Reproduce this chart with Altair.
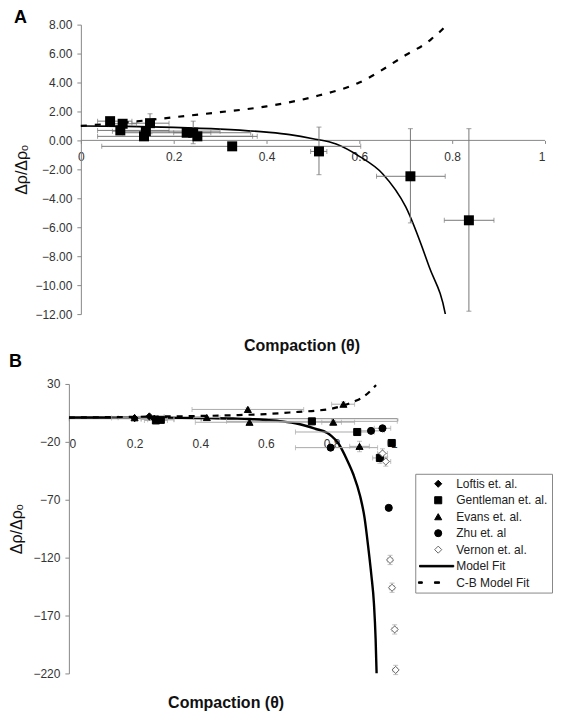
import altair as alt
import pandas as pd

# ---------------- Panel A data ----------------
a_x   = [0.063, 0.090, 0.085, 0.136, 0.140, 0.149, 0.228, 0.242, 0.251, 0.326, 0.513, 0.710, 0.836]
a_y   = [1.33, 1.15, 0.69, 0.28, 0.64, 1.19, 0.53, 0.53, 0.28, -0.41, -0.76, -2.48, -5.52]
a_xlo = [0.036, 0.060, 0.036, 0.036, 0.068, 0.110, 0.090, 0.200, 0.130, 0.045, 0.495, 0.637, 0.783]
a_xhi = [0.110, 0.120, 0.190, 0.370, 0.300, 0.190, 0.366, 0.280, 0.380, 0.603, 0.530, 0.785, 0.890]
a_ylo = [1.15, 1.00, 0.55, 0.15, 0.50, 0.46, 0.40, -0.23, 0.15, -0.55, -2.37, -5.70, -11.80]
a_yhi = [1.50, 1.30, 0.85, 0.40, 0.80, 1.84, 0.65, 1.33, 0.40, -0.27, 0.92, 0.81, 0.81]

# ---------------- Model curves ----------------
model_x = [0, 0.1, 0.2, 0.3, 0.4, 0.45, 0.5, 0.55, 0.6, 0.65, 0.7, 0.75, 0.787,
           0.8, 0.82, 0.846, 0.866, 0.887, 0.9, 0.912, 0.921, 0.929, 0.934, 0.937]
model_y = [1.0, 0.97, 0.9, 0.78, 0.57, 0.4, 0.12, -0.25, -1.1, -2.3, -4.6, -8.7, -12.3,
           -15, -21, -35, -48, -67, -85, -112, -135, -160, -190, -220]
cb_x = [0, 0.1, 0.2, 0.3, 0.4, 0.5, 0.6, 0.7, 0.755, 0.8, 0.836, 0.87, 0.9, 0.935]
cb_y = [1.0, 1.25, 1.6, 1.95, 2.35, 3.0, 4.0, 5.9, 7.0, 8.6, 11.5, 15, 19.5, 29]

# ---------------- Panel B data ----------------
series_names = ["Loftis et. al.", "Gentleman et. al.", "Evans et. al.", "Zhu et. al",
                "Vernon et. al.", "Model Fit", "C-B Model Fit"]
b_series = (["Loftis et. al."] * 3 + ["Gentleman et. al."] * 6 + ["Evans et. al."] * 8
            + ["Zhu et. al"] * 4 + ["Vernon et. al."] * 6)
b_x   = [0.20, 0.245, 0.26,
         0.265, 0.28, 0.74, 0.878, 0.947, 0.983,
         0.20, 0.27, 0.42, 0.545, 0.55, 0.805, 0.836, 0.885,
         0.797, 0.92, 0.955, 0.974,
         0.955, 0.965, 0.978, 0.984, 0.992, 0.995]
b_y   = [0.5, 2.0, 0.0,
         -1.5, -1.0, -2.3, -11.5, -33.9, -21,
         0.8, -0.5, 1.0, 8.0, -3.1, -3.0, 12.5, -23.9,
         -25, -10.5, -8.3, -77,
         -30, -37, -122, -146, -182, -217]
b_xlo = [0.13, 0.20, 0.22,
         0.23, 0.24, 0.48, 0.69, 0.925, 0.97,
         0.15, 0.22, 0.38, 0.375, 0.385, 0.77, 0.80, 0.855,
         0.69, 0.87, 0.93, 0.965,
         0.94, 0.95, 0.97, 0.976, 0.984, 0.987]
b_xhi = [0.27, 0.29, 0.30,
         0.30, 0.32, 1.0, 0.93, 0.97, 0.995,
         0.25, 0.32, 0.46, 0.715, 0.83, 0.87, 0.87, 0.915,
         0.94, 0.96, 0.98, 0.983,
         0.97, 0.98, 0.986, 0.992, 1.0, 1.0]
b_ylo = [-0.5, 1.0, -1.0,
         -2.5, -2.0, -3.3, -13.5, -38.5, -23,
         -0.2, -1.5, 0.0, 6.5, -4.5, -4.5, 10.5, -28.5,
         -27, -12.5, -10.3, -79,
         -34, -41, -126, -150, -186, -221]
b_yhi = [1.5, 3.0, 1.0,
         -0.5, 0.0, -1.3, -9.5, -29.5, -19,
         1.8, 0.5, 2.0, 9.5, -1.7, -1.5, 14.5, -19.5,
         -23, -8.5, -6.3, -75,
         -26, -33, -118, -142, -178, -213]

FONT = "Liberation Sans"

dfA = pd.DataFrame({"x": a_x, "y": a_y, "xlo": a_xlo, "xhi": a_xhi, "ylo": a_ylo, "yhi": a_yhi})
dfB = pd.DataFrame({"series": b_series, "x": b_x, "y": b_y, "xlo": b_xlo, "xhi": b_xhi,
                    "ylo": b_ylo, "yhi": b_yhi})
dfM = pd.DataFrame({"x": model_x, "y": model_y})
dfC = pd.DataFrame({"x": cb_x, "y": cb_y})


def caps(df):
    xc = pd.concat([df[["xlo", "y"]].rename(columns={"xlo": "cx"}),
                    df[["xhi", "y"]].rename(columns={"xhi": "cx"})])
    yc = pd.concat([df[["x", "ylo"]].rename(columns={"ylo": "cy"}),
                    df[["x", "yhi"]].rename(columns={"yhi": "cy"})])
    return xc, yc


def panel(df, xdom, ydom, yvals, yfmt, xoff, yoff, titleX, titleY, labpadx, labpady, tpad,
          errcol, lw, dash, width, height, mk_points):
    xaxis = alt.Axis(values=[0, 0.2, 0.4, 0.6, 0.8, 1], format="~g", orient="bottom",
                     offset=xoff, tickSize=3, labelPadding=labpadx, domain=False,
                     tickColor="#888", labelColor="#333", labelFontSize=12, labelFont=FONT,
                     grid=False, title="Compaction (θ)", titleFont=FONT, titleFontSize=16,
                     titleFontWeight="bold", titleX=titleX, titleY=titleY,
                     titleBaseline="alphabetic", titleAlign="center", titleColor="#111")
    yaxis = alt.Axis(values=yvals, format=yfmt, tickSize=4, labelPadding=labpady, offset=yoff,
                     domainColor="#888", tickColor="#888", labelColor="#333",
                     labelFontSize=12, labelFont=FONT, grid=False,
                     title="Δρ/Δρₒ", titleFont=FONT, titleFontSize=16,
                     titleFontWeight="normal", titlePadding=tpad, titleColor="#111")
    xs = alt.Scale(domain=xdom, nice=False, zero=False)
    ys = alt.Scale(domain=ydom, nice=False, zero=False)

    def X(f):
        return alt.X(f, type="quantitative", scale=xs, axis=xaxis)

    def Y(f):
        return alt.Y(f, type="quantitative", scale=ys, axis=yaxis)

    xc, yc = caps(df)
    # x axis line at y = 0 from theta = 0 to 1
    zero_line = alt.Chart(pd.DataFrame({"x": [0], "x2": [1], "y": [0]})).mark_rule(
        color="#888", strokeWidth=1).encode(x=X("x"), x2="x2:Q", y=Y("y"))
    model = alt.Chart(dfM).mark_line(color="black", strokeWidth=lw, clip=True,
                                     interpolate="monotone").encode(x=X("x"), y=Y("y"))
    xerr = alt.Chart(df).mark_rule(color=errcol, strokeWidth=1).encode(
        x=X("xlo"), x2="xhi:Q", y=Y("y"))
    xcap = alt.Chart(xc).mark_tick(orient="vertical", size=5, thickness=1, color=errcol).encode(
        x=X("cx"), y=Y("y"))
    yerr = alt.Chart(df).mark_rule(color=errcol, strokeWidth=1).encode(
        x=X("x"), y=Y("ylo"), y2="yhi:Q")
    ycap = alt.Chart(yc).mark_tick(orient="horizontal", size=5, thickness=1, color=errcol).encode(
        x=X("x"), y=Y("cy"))
    cb = alt.Chart(dfC).mark_line(color="black", strokeWidth=2.2, strokeDash=dash, clip=True,
                                  interpolate="monotone").encode(x=X("x"), y=Y("y"))
    pts = mk_points(X("x"), Y("y"))
    return alt.layer(zero_line, model, xerr, xcap, yerr, ycap, cb, pts).properties(
        width=width, height=height)


# ---- Panel A ----
def pointsA(x, y):
    return alt.Chart(dfA).mark_point(shape="square", filled=True, color="black", size=100,
                                     opacity=1).encode(x=x, y=y)


panelA = panel(dfA, [-12 / 465, 1], [-12, 8], list(range(-12, 9, 2)), ".2f", -174, -12,
               233, 210, 8, 5, 5, "#777", 1.6, [6, 8], 477, 290, pointsA).properties(
    title=alt.TitleParams("A", anchor="start", frame="bounds", fontSize=18,
                          fontWeight="bold", font=FONT, offset=-8))

# ---- Panel B ----
line_path = "M-5.3,-0.22H4.4V0.22H-5.3Z"
dash_path = "M-5.6,-0.22H-4.5V0.22H-5.6ZM-1.06,-0.22H0.37V0.22H-1.06Z"
shape_range = ["diamond", "square", "triangle-up", "circle", "diamond", line_path, dash_path]
fill_range = ["black", "black", "black", "black", "white", "black", "black"]
stroke_range = ["black", "black", "black", "black", "#666", "black", "black"]

leg = alt.Legend(title=None, orient="none", legendX=347, legendY=90, fillColor="white",
                 strokeColor="#888", padding=4, symbolOffset=13, labelOffset=12,
                 rowPadding=4.5, symbolSize=50, symbolStrokeWidth=1, labelFontSize=12,
                 labelFont=FONT, labelColor="#222", labelLimit=200)


def pointsB(x, y):
    return alt.Chart(dfB).mark_point(size=50, strokeWidth=1, opacity=1).encode(
        x=x, y=y,
        shape=alt.Shape("series:N", scale=alt.Scale(domain=series_names, range=shape_range),
                        legend=leg),
        fill=alt.Fill("series:N", scale=alt.Scale(domain=series_names, range=fill_range),
                      legend=leg),
        stroke=alt.Stroke("series:N", scale=alt.Scale(domain=series_names, range=stroke_range),
                          legend=leg),
    )


panelB = panel(dfB, [0, 1], [-220, 30], [30, -20, -70, -120, -170, -220], "d", -256, 0,
               157, 290, 18, 5, 8, "#aaa", 2.4, [6, 6], 329, 290, pointsB).properties(
    title=alt.TitleParams("B", anchor="start", frame="bounds", fontSize=18,
                          fontWeight="bold", font=FONT, offset=7))

chart = alt.concat(panelA, panelB, columns=1, spacing=0).resolve_scale(
    x="independent", y="independent", shape="independent", fill="independent",
    stroke="independent").resolve_legend(
    shape="independent", fill="independent", stroke="independent").properties(
    padding=0).configure_view(stroke=None)

chart.save("out.html", embed_options={"renderer": "svg", "actions": False})
